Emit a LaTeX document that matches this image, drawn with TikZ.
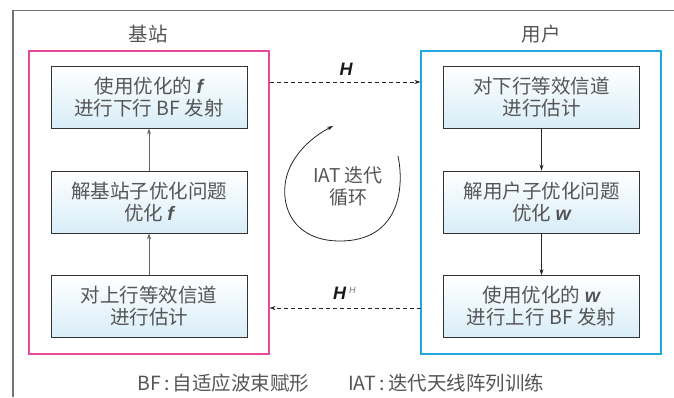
\documentclass[tikz,border=0pt]{standalone}
\usepackage{fontspec}
\setmainfont{Noto Sans CJK SC}
\newfontfamily\bif{Liberation Sans}
\usetikzlibrary{arrows.meta}
\definecolor{txt}{HTML}{555555}
\definecolor{pinkc}{HTML}{E8489E}
\definecolor{bluec}{HTML}{22A8E0}
\definecolor{boxbot}{HTML}{D8EDF8}
\newcommand{\bv}[1]{{\bif\bfseries\itshape #1}}
\tikzset{
  stepbox/.style={draw=black!80, line width=0.9pt, top color=white, bottom color=boxbot,
    minimum width=196pt, minimum height=62pt, align=center, text=txt,
    font=\fontsize{19.5}{22}\selectfont, inner sep=0pt},
  frame/.style={line width=1.1pt, minimum width=240pt, minimum height=303pt, inner sep=0pt},
  lbl/.style={text=txt, font=\fontsize{19.5}{22}\selectfont, inner sep=0pt},
  flow/.style={-{Stealth[length=6pt,width=4pt]}, line width=0.8pt},
  chan/.style={-{Stealth[length=6pt,width=4pt]}, dashed, dash pattern=on 4pt off 3pt, line width=0.8pt, draw=black!85},
}
\begin{document}
\begin{tikzpicture}[x=1pt,y=-1pt]
\useasboundingbox (0,0) rectangle (674,397);
% outer partial frame
\draw[black!55, line width=1.2pt] (13,397) -- (13,10.5) -- (674,10.5);
% group frames
\node[frame, draw=pinkc] (bs) at (149,202.5) {};
\node[frame, draw=bluec] (ue) at (541,202.5) {};
\node[lbl] (bslbl) at (148,34) {基站};
\node[lbl] (uelbl) at (541,34) {用户};
% left column
\node[stepbox] (l1) at (149,97) {使用优化的 \bv{f}\\进行下行 BF 发射};
\node[stepbox] (l2) at (149,202) {解基站子优化问题\\优化 \bv{f}};
\node[stepbox] (l3) at (149,306.5) {对上行等效信道\\进行估计};
% right column
\node[stepbox] (r1) at (541.5,97) {对下行等效信道\\进行估计};
\node[stepbox] (r2) at (541.5,202) {解用户子优化问题\\优化 \bv{w}};
\node[stepbox] (r3) at (541.5,306.5) {使用优化的 \bv{w}\\进行上行 BF 发射};
% flows
\draw[flow, draw=black!60] (l3) -- (l2);
\draw[flow, draw=black!60] (l2) -- (l1);
\draw[flow, draw=black!85] (r1) -- (r2);
\draw[flow, draw=black!85] (r2) -- (r3);
% channel arrows
\coordinate (hs) at (269.5,82);
\coordinate (he) at (420.5,82);
\coordinate (gs) at (420.5,308);
\coordinate (ge) at (269.5,308);
\draw[chan] (hs) -- (he);
\draw[chan] (gs) -- (ge);
\node[text=black!90, font=\fontsize{18}{18}\selectfont, inner sep=0pt] (hl) at (346,69) {\bv{H}};
\node[text=black!90, font=\fontsize{18}{18}\selectfont, inner sep=0pt, anchor=west] (hhl) at (333,293) {\bv{H}\,\raisebox{6pt}{\fontsize{9}{9}\selectfont\color{black!55}\bif\itshape H}};
% IAT loop
\node[lbl, align=center, font=\fontsize{19}{22}\selectfont] (iat) at (348,186) {IAT 迭代\\循环};
\coordinate (ls) at (398,156);
\coordinate (le) at (333,126);
\draw[black!85, line width=0.8pt, -{Stealth[length=6pt,width=4pt]}] (ls) .. controls (405,190) and (398,241) .. (340,241) .. controls (300,241) and (282,215) .. (285,185) .. controls (288,158) and (310,138) .. (le);
% legend
\node[lbl, anchor=west] (leg1) at (137,383) {BF\,:\,自适应波束赋形};
\node[lbl, anchor=west] (leg2) at (348,383) {IAT\,:\,迭代天线阵列训练};
\end{tikzpicture}
\end{document}
